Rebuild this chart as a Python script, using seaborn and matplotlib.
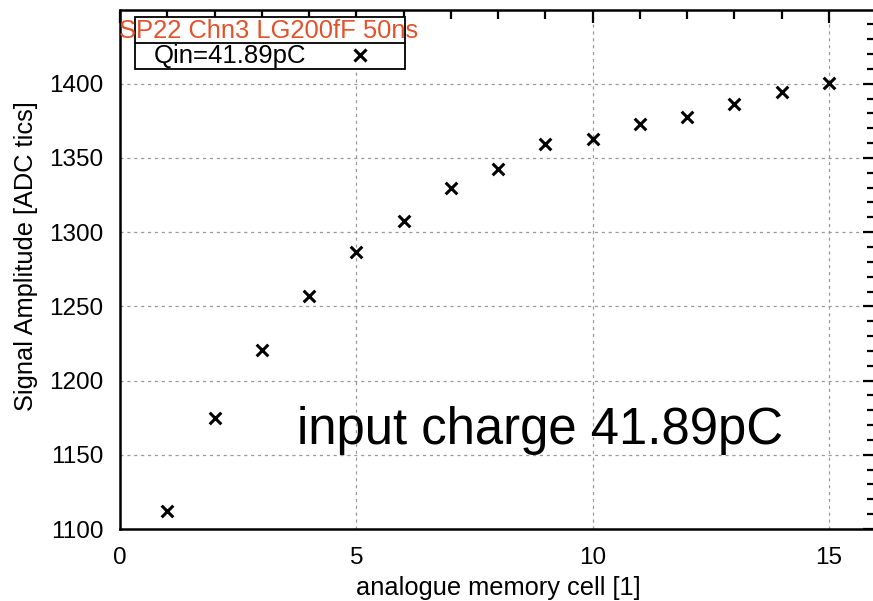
import matplotlib
matplotlib.use("Agg")
import matplotlib.pyplot as plt
import seaborn as sns
import pandas as pd
from matplotlib.patches import Rectangle
from matplotlib.lines import Line2D

# ---- data ----
cells = [1, 2, 3, 4, 5, 6, 7, 8, 9, 10, 11, 12, 13, 14, 15]
amplitude = [1112, 1174.5, 1220.5, 1257, 1286.6, 1307.2, 1330, 1342.6, 1359.2,
             1362.7, 1372.8, 1377.3, 1386.1, 1394.2, 1400.8]
legend_title = "SP22 Chn3 LG200fF 50ns"
series_label = "Qin=41.89pC"
annotation = "input charge 41.89pC"
x_ticks = [0, 5, 10, 15]
y_ticks = [1100, 1150, 1200, 1250, 1300, 1350, 1400]

df = pd.DataFrame({"cell": cells, "amp": amplitude})

sns.set_theme(style="white")
plt.rcParams["font.family"] = ["Liberation Sans", "DejaVu Sans"]
plt.rcParams.update({"text.color": "black", "axes.labelcolor": "black",
                     "xtick.color": "black", "ytick.color": "black",
                     "xtick.labelcolor": "black", "ytick.labelcolor": "black"})

fig = plt.figure(figsize=(8.73, 6.01), dpi=100)
L, R, T, B = 120, 876.3, 9.5, 529
W, H = 873, 601
ax = fig.add_axes([L / W, 1 - B / H, (R - L) / W, (B - T) / H])

sns.scatterplot(data=df, x="cell", y="amp", marker="x", color="black",
                s=70, linewidth=2.2, ax=ax, legend=False, zorder=3)

ax.set_xlim(0, 16)
ax.set_ylim(1100, 1450)
ax.set_xticks(x_ticks)
ax.set_yticks(y_ticks)
ax.set_xticks(range(0, 17), minor=True)
ax.set_yticks(range(1100, 1450, 10), minor=True)
ax.grid(True, which="major", color="#9a9a9a", linestyle=(0, (2.5, 3)), linewidth=0.9)
ax.tick_params(which="both", direction="in", top=True, right=True, width=1.6,
               color="black", labelcolor="black", labelsize=17.5)
ax.tick_params(which="major", length=9.5)
ax.tick_params(which="minor", length=6.3)
ax.tick_params(axis="y", which="major", pad=12)
ax.tick_params(axis="x", which="major", pad=13)
for s in ax.spines.values():
    s.set_color("black")
    s.set_linewidth(1.8)

ax.set_xlabel("analogue memory cell [1]", fontsize=18.3, color="black")
ax.set_ylabel("Signal Amplitude [ADC tics]", fontsize=18.3, color="black")
ax.xaxis.set_label_coords((498 - L) / (R - L), -0.090)
ax.yaxis.set_label_coords((38 - L) / (R - L), 0.525)

# annotation
ax.text(3.74, 1157.3, annotation, fontsize=36.6, color="black", va="baseline", ha="left")

# legend frame
def fx(px):
    return (px - L) / (R - L)

def fy(py):
    return (B - py) / (B - T)

ax.add_patch(Rectangle((fx(135), fy(69.3)), fx(405) - fx(135), fy(17.3) - fy(69.3),
                       transform=ax.transAxes, facecolor="white", edgecolor="black",
                       linewidth=1.3, zorder=5, clip_on=False))
ax.add_line(Line2D([fx(135), fx(405)], [fy(43.3), fy(43.3)], transform=ax.transAxes,
                   color="black", linewidth=1.3, zorder=6))
ax.text(fx(119), fy(38), legend_title, transform=ax.transAxes, fontsize=18.4,
        color="#E2522B", va="baseline", ha="left", zorder=7)

handle = Line2D([], [], marker="x", linestyle="none", color="black",
                markersize=8, markeredgewidth=2.2)
leg = ax.legend([handle], [series_label], loc="center left",
                bbox_to_anchor=(fx(153.3), fy(56.5)), frameon=False,
                markerfirst=False, fontsize=18.5, borderpad=0, borderaxespad=0,
                handlelength=1.0, handletextpad=1.6, labelcolor="black")
leg.set_zorder(8)

fig.savefig("out.png", dpi=100)
